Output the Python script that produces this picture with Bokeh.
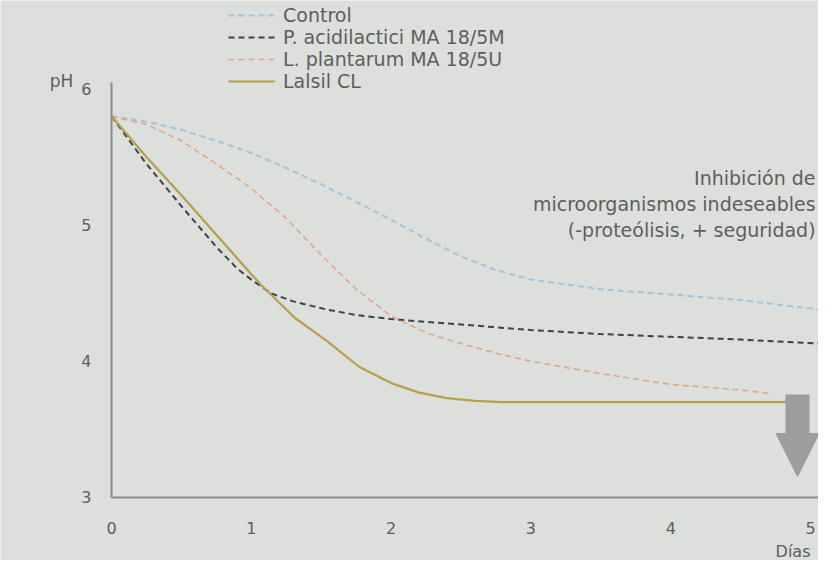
from bokeh.plotting import figure
from bokeh.models import Range1d, FixedTicker, Legend, LegendItem, Label, Arrow, NormalHead
from bokeh.embed import file_html
from bokeh.resources import INLINE

# ---------------- data ----------------
series_names = ["Control", "P. acidilactici MA 18/5M", "L. plantarum MA 18/5U", "Lalsil CL"]

days_control = [0, 0.25, 0.5, 0.75, 1, 1.25, 1.5, 1.75, 2, 2.25, 2.5, 2.75, 3, 3.5, 4, 4.5, 5.06]
ph_control = [5.80, 5.76, 5.70, 5.62, 5.53, 5.42, 5.30, 5.17, 5.04, 4.90, 4.77, 4.67, 4.60, 4.53, 4.49, 4.45, 4.38]

days_acidilactici = [0, 0.25, 0.5, 0.75, 0.9, 1, 1.14, 1.3, 1.54, 1.75, 2, 2.25, 2.5, 2.75, 3, 3.5, 4, 4.5, 5.06]
ph_acidilactici = [5.80, 5.45, 5.14, 4.84, 4.68, 4.60, 4.50, 4.44, 4.38, 4.34, 4.31, 4.29, 4.27, 4.25, 4.23, 4.20, 4.18, 4.16, 4.13]

days_plantarum = [0, 0.25, 0.5, 0.75, 1, 1.25, 1.5, 1.75, 2, 2.25, 2.5, 2.75, 3, 3.5, 4, 4.5, 4.73]
ph_plantarum = [5.80, 5.74, 5.62, 5.45, 5.27, 5.05, 4.78, 4.53, 4.33, 4.21, 4.13, 4.06, 4.00, 3.91, 3.83, 3.79, 3.76]

days_lalsil = [0, 0.25, 0.5, 0.75, 1, 1.07, 1.31, 1.54, 1.77, 2, 2.2, 2.4, 2.6, 2.8, 3, 4, 4.84]
ph_lalsil = [5.80, 5.50, 5.22, 4.93, 4.64, 4.56, 4.32, 4.15, 3.96, 3.84, 3.77, 3.73, 3.71, 3.70, 3.70, 3.70, 3.70]

x_ticks = [0, 1, 2, 3, 4, 5]
y_ticks = [3, 4, 5, 6]

y_title = "pH"
x_title = "Días"
annotation_lines = ["Inhibición de", "microorganismos indeseables", "(-proteólisis, + seguridad)"]

# ---------------- style ----------------
BG = "#dcdfdb"
FONT = "DejaVu Sans"
TXT = "#5e5e5e"
AXIS = "#8c8c8c"
C_CONTROL = "#a3c4da"
C_ACID = "#3f4347"
C_PLANT = "#e3a58c"
C_LALSIL = "#b6a048"
C_ARROW = "#9c9d9c"

# frame fills the whole canvas; axes are pinned inside it
p = figure(width=818, height=560, output_backend="svg", toolbar_location=None,
           x_range=Range1d(-0.794, 5.057), y_range=Range1d(2.537, 6.650),
           min_border_left=0, min_border_right=0, min_border_top=0, min_border_bottom=0)
p.background_fill_color = BG
p.border_fill_color = BG
p.outline_line_color = None
p.grid.visible = False

for ax in (p.xaxis[0], p.yaxis[0]):
    ax.axis_line_color = AXIS
    ax.axis_line_width = 2
    ax.major_tick_line_color = None
    ax.minor_tick_line_color = None
    ax.major_tick_out = 0
    ax.major_tick_in = 0
    ax.minor_tick_out = 0
    ax.minor_tick_in = 0
    ax.major_label_text_font = FONT
    ax.major_label_text_font_size = "16px"
    ax.major_label_text_color = TXT

p.xaxis.ticker = FixedTicker(ticks=x_ticks)
p.yaxis.ticker = FixedTicker(ticks=y_ticks)
p.xaxis.fixed_location = 3
p.yaxis.fixed_location = 0
p.xaxis.bounds = (0, 5.06)
p.yaxis.bounds = (3, 6.05)
p.xaxis.major_label_standoff = 25
p.yaxis.major_label_standoff = 20

r_control = p.line(days_control, ph_control, line_color=C_CONTROL, line_width=2, line_dash="6 4")
r_acid = p.line(days_acidilactici, ph_acidilactici, line_color=C_ACID, line_width=2, line_dash="6 4")
r_plant = p.line(days_plantarum, ph_plantarum, line_color=C_PLANT, line_width=1.6, line_dash="6 4")
r_lalsil = p.line(days_lalsil, ph_lalsil, line_color=C_LALSIL, line_width=2.2)

legend = Legend(
    items=[LegendItem(label=n, renderers=[r]) for n, r in
           zip(series_names, [r_control, r_acid, r_plant, r_lalsil])],
    location=(228, 468),
    background_fill_alpha=0, border_line_color=None,
    label_text_font=FONT, label_text_font_size="19px", label_text_color=TXT,
    glyph_width=47, glyph_height=20, label_height=20, spacing=0,
    padding=0, margin=0, label_standoff=8,
)
p.add_layout(legend)

# axis titles
p.add_layout(Label(x=-0.358, y=6.06, text=y_title, text_font=FONT, text_font_size="17px",
                   text_color=TXT, text_align="center", text_baseline="middle"))
p.add_layout(Label(x=4.75, y=2.60, text=x_title, text_font=FONT, text_font_size="16px",
                   text_color=TXT, text_align="left", text_baseline="middle"))

# annotation text
for txt, yy in zip(annotation_lines, [5.345, 5.154, 4.963]):
    p.add_layout(Label(x=5.036, y=yy, text=txt, text_font=FONT, text_font_size="19px",
                       text_color=TXT, text_align="right", text_baseline="middle"))

# down arrow
p.add_layout(Arrow(end=None, x_start=4.907, y_start=3.756, x_end=4.907, y_end=3.43,
                   line_color=C_ARROW, line_width=24))
p.add_layout(Arrow(end=NormalHead(size=43, fill_color=C_ARROW, line_color=C_ARROW),
                   x_start=4.907, y_start=3.46, x_end=4.907, y_end=3.154,
                   line_color=C_ARROW, line_width=1, line_alpha=0))

html = file_html(p, INLINE)
html = html.replace("<body>", '<body style="background-color:%s;">' % BG, 1)
open("out.html", "w").write(html)
